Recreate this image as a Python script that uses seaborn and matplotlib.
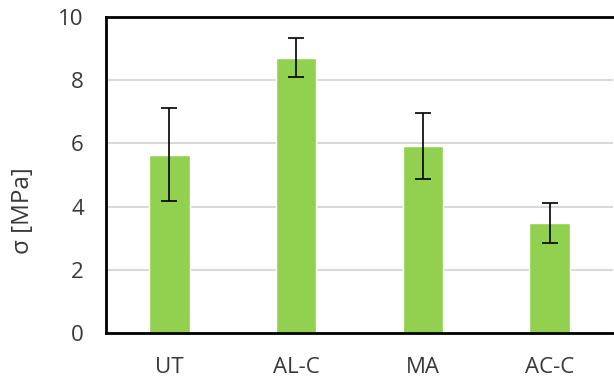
import matplotlib.pyplot as plt
import seaborn as sns
import pandas as pd

# values
groups = ["UT", "AL-C", "MA", "AC-C"]
stress = [5.65, 8.71, 5.92, 3.49]
stress_err = [1.48, 0.62, 1.06, 0.64]

frame = pd.DataFrame({"group": groups, "stress": stress})

sns.set_style("white")
plt.rcParams["font.family"] = ["Open Sans", "DejaVu Sans"]

fig = plt.figure(figsize=(6.14, 3.81), dpi=100)
ax = fig.add_axes([0.1726, 0.126, 0.826, 0.829])

sns.barplot(data=frame, x="group", y="stress", color="#92D050",
            saturation=1, width=0.32, errorbar=None, ax=ax, zorder=2)
ax.errorbar(range(len(groups)), stress, yerr=stress_err, fmt="none",
            ecolor="black", elinewidth=1.2, capsize=6, capthick=1.2, zorder=3)

ax.set_ylim(0, 10)
ax.set_xlim(-0.5, 3.5)
ax.set_yticks([0, 2, 4, 6, 8, 10])
ax.yaxis.grid(True, color="#d9d9d9", linewidth=1.5, zorder=0)
ax.set_axisbelow(True)

for side in ["left", "top", "bottom"]:
    ax.spines[side].set_color("black")
    ax.spines[side].set_linewidth(2)
ax.spines["right"].set_visible(False)

ax.tick_params(axis="both", length=0, labelsize=16, colors="#383838")
ax.tick_params(axis="y", pad=16)
ax.tick_params(axis="x", pad=17)
ax.set_xlabel("")
ax.set_ylabel("σ [MPa]", fontsize=17.5, color="#383838")
ax.yaxis.set_label_coords(-0.14, 0.386)

fig.savefig("out.png", dpi=100)
